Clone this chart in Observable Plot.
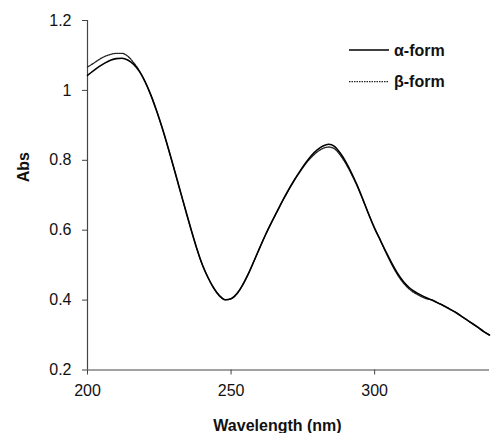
<!DOCTYPE html>
<html>
<head>
<meta charset="utf-8">
<script src="https://cdn.jsdelivr.net/npm/d3@7"></script>
<script src="https://cdn.jsdelivr.net/npm/@observablehq/plot@0.6"></script>
<style>
  html, body { margin: 0; padding: 0; background: #fff; }
  #chart { position: relative; width: 491px; height: 433px; font-family: "Liberation Sans", Arial, sans-serif; }
  #legend { position: absolute; left: 340px; top: 34px; }
</style>
</head>
<body>
<div id="chart"></div>
<script>
// UV absorption spectra of the two crystal forms
const wavelength = [
  200, 202, 204, 206, 208, 210, 212, 214, 216, 218,
  220, 222, 224, 226, 228, 230, 232, 234, 236, 238,
  240, 242, 244, 246, 248, 250, 252, 254, 256, 258,
  260, 262, 264, 266, 268, 270, 272, 274, 276, 278,
  280, 282, 284, 286, 288, 290, 292, 294, 296, 298,
  300, 302, 304, 306, 308, 310, 312, 314, 316, 318,
  320, 322, 324, 326, 328, 330, 332, 334, 336, 338,
  340
];
const alphaAbs = [
  1.043, 1.056, 1.068, 1.078, 1.086, 1.091, 1.092, 1.087, 1.075, 1.055,
  1.026, 0.988, 0.943, 0.893, 0.838, 0.780, 0.721, 0.662, 0.604, 0.549,
  0.501, 0.464, 0.434, 0.412, 0.401, 0.404, 0.418, 0.443, 0.475, 0.512,
  0.550, 0.587, 0.621, 0.653, 0.685, 0.715, 0.743, 0.769, 0.793, 0.814,
  0.830, 0.841, 0.846, 0.840, 0.821, 0.795, 0.763, 0.727, 0.686, 0.644,
  0.605, 0.571, 0.537, 0.505, 0.476, 0.453, 0.436, 0.424, 0.415, 0.407,
  0.400, 0.392, 0.384, 0.375, 0.366, 0.355, 0.344, 0.333, 0.322, 0.310,
  0.300
];
const betaAbs = [
  1.067, 1.077, 1.088, 1.097, 1.103, 1.106, 1.106, 1.098, 1.080, 1.057,
  1.026, 0.988, 0.943, 0.893, 0.838, 0.780, 0.721, 0.662, 0.604, 0.549,
  0.501, 0.464, 0.434, 0.412, 0.401, 0.404, 0.418, 0.443, 0.475, 0.512,
  0.550, 0.587, 0.621, 0.653, 0.685, 0.715, 0.743, 0.767, 0.790, 0.809,
  0.824, 0.834, 0.838, 0.833, 0.815, 0.790, 0.759, 0.725, 0.686, 0.644,
  0.605, 0.571, 0.535, 0.501, 0.472, 0.449, 0.432, 0.420, 0.411, 0.404,
  0.400, 0.392, 0.384, 0.375, 0.366, 0.355, 0.344, 0.333, 0.322, 0.310,
  0.300
];
const seriesNames = ["α-form", "β-form"];
const xTicks = [200, 250, 300];
const yTicks = [0.2, 0.4, 0.6, 0.8, 1.0, 1.2];

const alphaData = wavelength.map((w, i) => ({wl: w, abs: alphaAbs[i]}));
const betaData = wavelength.map((w, i) => ({wl: w, abs: betaAbs[i]}));

const axisColor = "#444";
const font = "Liberation Sans, Arial, sans-serif";

const plot = Plot.plot({
  width: 491,
  height: 433,
  marginLeft: 87,
  marginRight: 2,
  marginTop: 20,
  marginBottom: 63.5,
  style: {fontFamily: font, fontSize: "16px", color: "#111", background: "#fff"},
  x: {domain: [200, 340]},
  y: {domain: [0.2, 1.2]},
  marks: [
    Plot.axisX({ticks: xTicks, tickSize: 5, tickPadding: 10, stroke: axisColor, fontSize: 16, label: null}),
    Plot.axisY({ticks: yTicks, tickSize: 5, tickPadding: 11, stroke: axisColor, fontSize: 16, label: null,
      tickFormat: d => String(+d.toFixed(1))}),
    Plot.ruleX([200], {stroke: axisColor, strokeWidth: 1.2}),
    Plot.ruleY([0.2], {stroke: axisColor, strokeWidth: 1.2}),
    Plot.line(betaData, {x: "wl", y: "abs", stroke: "#222", strokeWidth: 1.3,
      strokeDasharray: "1.5,1", curve: "monotone-x"}),
    Plot.line(alphaData, {x: "wl", y: "abs", stroke: "#000", strokeWidth: 1.6, curve: "monotone-x"}),
    Plot.text(["Wavelength (nm)"], {frameAnchor: "bottom", dx: -11, dy: 56, fontWeight: "bold",
      fontSize: 16, lineAnchor: "middle", fill: "#111"}),
    Plot.text(["Abs"], {frameAnchor: "left", dx: -64, dy: -13, rotate: -90, fontWeight: "bold",
      fontSize: 16, lineAnchor: "middle", fill: "#111"})
  ]
});

const chart = document.getElementById("chart");
chart.appendChild(plot);

// Legend: solid swatch for α-form, dotted swatch for β-form
const legend = d3.create("svg")
  .attr("id", "legend")
  .attr("width", 150)
  .attr("height", 64)
  .style("font-family", font);
const rows = legend.selectAll("g")
  .data(seriesNames)
  .join("g")
  .attr("transform", (d, i) => `translate(0,${16 + i * 31.7})`);
rows.append("line")
  .attr("x1", 9).attr("x2", 49)
  .attr("stroke", (d, i) => i === 0 ? "#000" : "#222")
  .attr("stroke-width", (d, i) => i === 0 ? 1.6 : 1.3)
  .attr("stroke-dasharray", (d, i) => i === 0 ? null : "1.5,1");
rows.append("text")
  .attr("x", 54)
  .attr("dy", "0.35em")
  .attr("font-size", 16)
  .attr("font-weight", "bold")
  .attr("fill", "#111")
  .text(d => d);
chart.appendChild(legend.node());
</script>
</body>
</html>
